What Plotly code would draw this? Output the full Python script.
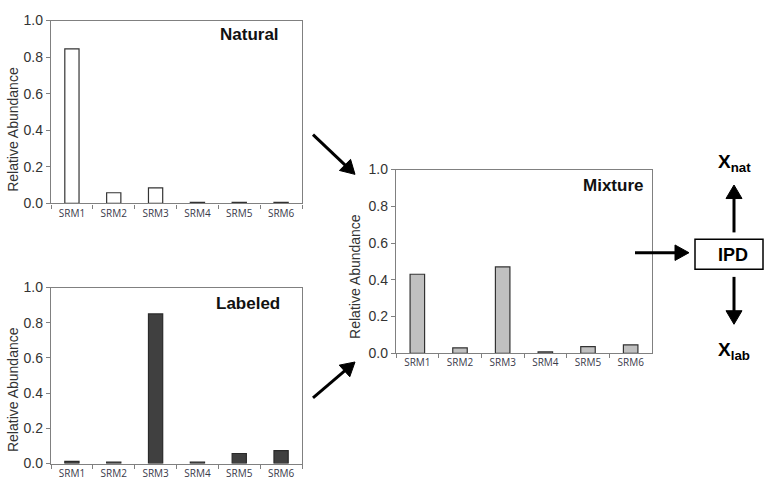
import math
import plotly.graph_objects as go

categories = ["SRM1", "SRM2", "SRM3", "SRM4", "SRM5", "SRM6"]
natural = [0.845, 0.058, 0.085, 0.005, 0.005, 0.005]
labeled = [0.012, 0.008, 0.85, 0.008, 0.057, 0.073]
mixture = [0.43, 0.03, 0.47, 0.008, 0.036, 0.046]
y_ticks = [0.0, 0.2, 0.4, 0.6, 0.8, 1.0]

W, H = 764, 488
def px(x):
    return x / W
def py(y):
    return 1 - y / H

fig = go.Figure()
fig.add_trace(go.Bar(x=categories, y=natural, width=0.34, xaxis="x", yaxis="y",
                     marker=dict(color="white", line=dict(color="#333333", width=1.2))))
fig.add_trace(go.Bar(x=categories, y=labeled, width=0.34, xaxis="x2", yaxis="y2",
                     marker=dict(color="#404040", line=dict(color="#2a2a2a", width=1.2))))
fig.add_trace(go.Bar(x=categories, y=mixture, width=0.34, xaxis="x3", yaxis="y3",
                     marker=dict(color="#c0c0c0", line=dict(color="#333333", width=1.2))))

axis_common_x = dict(type="category", showline=True, mirror=True, linecolor="#808080", linewidth=1.3,
                     ticks="outside", tickson="boundaries", ticklen=4, tickcolor="#808080",
                     tickfont=dict(family="Open Sans, Liberation Sans", size=10, color="#3a3a4a"),
                     showgrid=False, zeroline=False, fixedrange=True)
axis_common_y = dict(range=[0, 1], tickvals=y_ticks, tickformat=".1f", showline=True, mirror=True,
                     linecolor="#808080", linewidth=1.3, ticks="outside", ticklen=4, tickcolor="#808080",
                     tickfont=dict(family="Liberation Sans, Arial", size=14, color="#333333"),
                     showgrid=False, zeroline=False)

fig.update_layout(
    width=W, height=H, margin=dict(l=0, r=0, t=0, b=0),
    paper_bgcolor="white", plot_bgcolor="white", showlegend=False,
    xaxis=dict(domain=[px(51), px(302)], anchor="y", **axis_common_x),
    yaxis=dict(domain=[py(202), py(13)], anchor="x", **axis_common_y),
    xaxis2=dict(domain=[px(51), px(302)], anchor="y2", **axis_common_x),
    yaxis2=dict(domain=[py(471), py(289)], anchor="x2", **axis_common_y),
    xaxis3=dict(domain=[px(396), px(652)], anchor="y3", **axis_common_x),
    yaxis3=dict(domain=[py(357), py(167)], anchor="x3", **axis_common_y),
)

def label(text, x, y, size, color="#111111", angle=0):
    fig.add_annotation(text=text, x=px(x), y=py(y), xref="paper", yref="paper",
                       xanchor="center", yanchor="middle", showarrow=False, textangle=angle,
                       font=dict(family="Liberation Sans, Arial", size=size, color=color))

label("<b>Natural</b>", 249, 27, 17)
label("<b>Labeled</b>", 248, 305, 17)
label("<b>Mixture</b>", 613, 183, 17)

# y-axis titles
label("Relative Abundance", 13, 126, 14, "#333333", -90)
label("Relative Abundance", 13, 395, 14, "#333333", -90)
label("Relative Abundance", 355, 278, 14, "#333333", -90)

# arrows drawn as shapes: tail (x, y) -> tip (x, y) in pixels
arrows = [((313, 131), (355, 172)), ((313, 403), (355, 366)), ((635, 253), (689, 253)),
          ((734, 232), (734, 183)), ((734, 278), (734, 327))]
head_len, head_w = 14, 16
for (x0, y0), (x1, y1) in arrows:
    dx, dy = x1 - x0, y1 - y0
    L = math.hypot(dx, dy)
    ux, uy = dx / L, dy / L
    nx, ny = -uy, ux
    bx, by = x1 - head_len * ux, y1 - head_len * uy
    fig.add_shape(type="line", x0=px(x0), y0=py(y0), x1=px(bx + ux), y1=py(by + uy),
                  xref="paper", yref="paper", line=dict(color="black", width=3))
    p1 = (bx + nx * head_w / 2, by + ny * head_w / 2)
    p2 = (bx - nx * head_w / 2, by - ny * head_w / 2)
    path = "M {} {} L {} {} L {} {} Z".format(px(x1), py(y1), px(p1[0]), py(p1[1]), px(p2[0]), py(p2[1]))
    fig.add_shape(type="path", path=path, xref="paper", yref="paper",
                  fillcolor="black", line=dict(color="black", width=1))

fig.add_shape(type="rect", x0=px(695), x1=px(763), y0=py(270), y1=py(239), xref="paper", yref="paper",
              line=dict(color="black", width=1.5), fillcolor="white")
label("<b>IPD</b>", 733, 255, 18, "black")
label("<b>X<sub>nat</sub></b>", 734, 160, 19, "black")
label("<b>X<sub>lab</sub></b>", 734, 355, 19, "black")

fig.write_html("out.html")
